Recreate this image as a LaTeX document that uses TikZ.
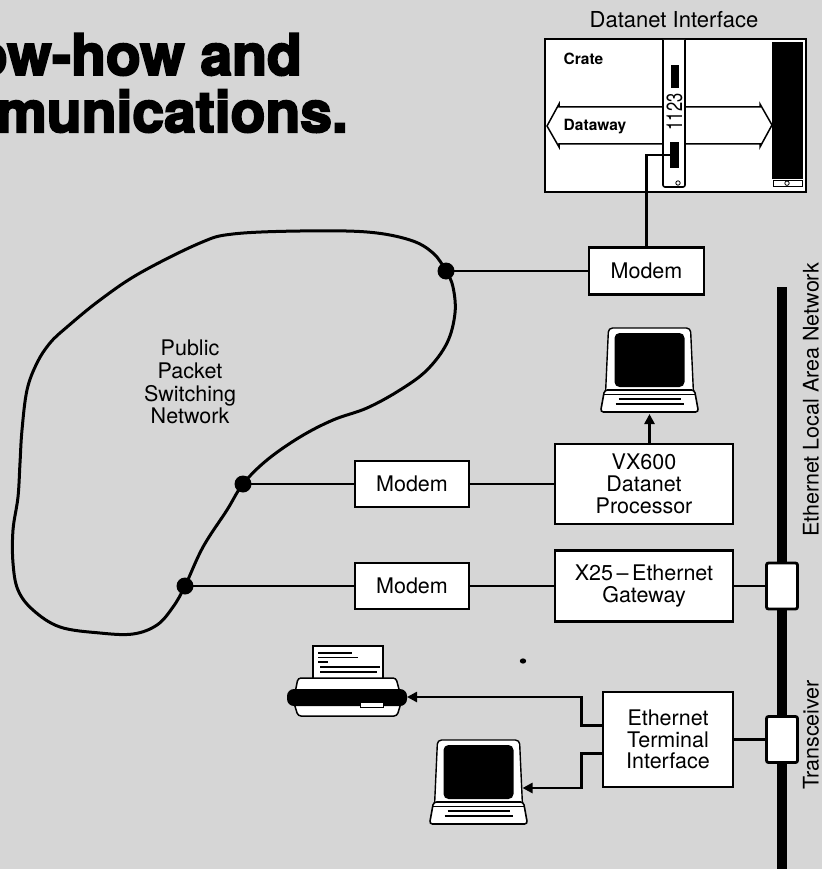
\documentclass[tikz,border=0pt]{standalone}
\usepackage{fontspec}
\setmainfont{TeX Gyre Heros}
\newfontfamily\headfont{TeX Gyre Heros}[FakeBold=3.5]
\usetikzlibrary{arrows.meta}
\definecolor{paper}{gray}{0.84}

\tikzset{
  terminal/.pic={
    % monitor casing, screen and keyboard wedge
    \draw[fill=white, line width=1.4pt, rounded corners=4pt] (-44,66) -- (-41,0) -- (41,0) -- (44,66) -- cycle;
    \fill[rounded corners=5pt] (-35,5) rectangle (35,59);
    \draw[fill=white, line width=1.6pt, rounded corners=3pt] (-45,62) -- (45,62) -- (49,84) -- (-49,84) -- cycle;
    \draw[line width=1pt] (-46,66) -- (46,66);
    \draw[line width=1.8pt] (-31,71) -- (31,71);
    \draw[line width=1.8pt] (-34,76) -- (34,76);
    \coordinate (-bot) at (0,86);
    \coordinate (-side) at (44,48);
  }
}

\begin{document}
\begin{tikzpicture}[x=1pt,y=-1pt,
  lbl/.style={font=\fontsize{21.5}{23}\selectfont, align=center, inner sep=0},
  box/.style={draw, fill=white, line width=2.6pt, inner sep=0,
              font=\fontsize{21.5}{21.8}\selectfont, align=center},
  trx/.style={draw, fill=white, line width=2.8pt, rounded corners=2pt,
              minimum width=31pt, minimum height=46pt, inner sep=0},
  junction/.style={circle, fill=black, minimum size=17pt, inner sep=0},
  wire/.style={line width=2.6pt},
  feed/.style={line width=2.6pt, -{Triangle[length=10pt,width=10pt]}},
  smallbold/.style={font=\fontsize{15.5}{16}\selectfont\bfseries, inner sep=0},
  headline/.style={anchor=base east, inner sep=0, font=\headfont\bfseries\fontsize{57}{57}\selectfont},
]
\useasboundingbox (0,0) rectangle (822,869);
\fill[paper] (0,0) rectangle (822,869);

% ---- headline ----
\begin{scope}
\clip (0,0) rectangle (822,869);
\node[headline] (head1) at (302,75) {know-how and};
\node[headline] (head2) at (348,132) {communications.};
\end{scope}

% ---- Datanet interface crate ----
\node[lbl, font=\fontsize{22}{23}\selectfont] (title) at (674,20) {Datanet Interface};
\node[draw, fill=white, line width=2.6pt, minimum width=261pt, minimum height=153pt, inner sep=0] (crate) at (675.5,115.5) {};
\draw[line width=1.5pt, fill=white] (547,126) -- (559,104) -- (559,107) -- (760,107) -- (760,104)
   -- (772,125) -- (760,147) -- (760,144) -- (559,144) -- (559,147) -- cycle;
\fill (772,42) rectangle (802.5,179);
\draw[line width=1pt, fill=white] (773,180) rectangle (802,186.5);
\draw[line width=0.8pt, fill=white] (787,183.2) circle (2.2pt);
\draw[line width=1.6pt, fill=white, rounded corners=2pt] (663,40) -- (663,187) -- (685,187) -- (685,40);
\draw[line width=0.8pt, fill=white] (678,183) circle (2.2pt);
\node[fill=black, minimum width=8pt, minimum height=23pt, inner sep=0] (slotA) at (674.5,76.5) {};
\node[fill=black, minimum width=8.5pt, minimum height=26pt, inner sep=0] (port) at (674.25,155) {};
\node[rotate=90, inner sep=0, font=\fontsize{22}{22}\selectfont] (cardlabel) at (674.5,112) {\scalebox{0.75}[1]{1123}};
\node[smallbold] (cratelabel) at (583.5,58.5) {Crate};
\node[smallbold] (waylabel) at (595,127) {Dataway};

% ---- packet switching network ----
\draw[line width=3pt] plot[smooth cycle, tension=0.6] coordinates {
 (446,271) (433,253) (410,240) (367,232) (300,231) (233,234) (200,243) (140,273)
 (100,300) (67,327) (50,343) (37,363) (27,390) (22,430) (20,463) (18,497) (13,530)
 (13,563) (18,590) (33,610) (60,627) (100,633) (133,634) (157,625) (173,607)
 (185,586) (203,547) (227,510) (243,484) (267,460) (300,437) (333,420) (367,408)
 (400,390) (427,370) (447,343) (455,313) (453,287)};
\node[lbl, font=\fontsize{21.5}{22.7}\selectfont] (psn) at (190,382) {Public\\Packet\\Switching\\Network};

% ---- boxes ----
\node[box, minimum width=115pt, minimum height=47pt] (modemA) at (646.5,271) {Modem};
\node[box, minimum width=114pt, minimum height=46pt] (modemB) at (412,484) {Modem};
\node[box, minimum width=114pt, minimum height=46pt] (modemC) at (412,586) {Modem};
\node[box, minimum width=178pt, minimum height=80pt] (vx) at (644,484) {VX600\\Datanet\\Processor};
\node[box, minimum width=178pt, minimum height=71pt] (x25) at (644,586) {X25\,–\,Ethernet\\Gateway};
\node[box, minimum width=130pt, minimum height=95pt] (eti) at (668,739.5) {Ethernet\\Terminal\\Interface};

% ---- Ethernet bus and transceivers ----
\node[fill=black, minimum width=10.5pt, minimum height=600pt, inner sep=0, anchor=north] (bus) at (782,287) {};
\node[trx] (trA) at (782,586) {};
\node[trx] (trB) at (782,739.5) {};
\node[lbl, rotate=90] (lan) at (811,400) {Ethernet Local Area Network};
\node[lbl, rotate=90] (trlabel) at (811,735) {Transceiver};

% ---- junctions on the network ----
\node[junction] (d1) at (446,271) {};
\node[junction] (d2) at (243,484) {};
\node[junction] (d3) at (185,586) {};

% ---- terminals and printer ----
\pic (t1) at (649.5,328) {terminal};
\pic (t2) at (478.5,740) {terminal};

\draw[line width=1.4pt, fill=white] (313,646) rectangle (383,681);
\draw[line width=1.8pt] (318,653) -- (352,653);
\draw[line width=1.3pt] (318,657.5) -- (358,657.5);
\draw[line width=1.3pt] (318,662) -- (328,662);
\draw[line width=1.3pt] (320,667) -- (380,667);
\draw[line width=1.3pt] (320,672) -- (377,672);
\draw[fill=white, line width=1.5pt, rounded corners=3pt] (295,693) -- (298,678) -- (396,678) -- (400,693) -- cycle;
\draw[fill=white, line width=1.5pt, rounded corners=3pt] (294,703) -- (401,703) -- (397,716) -- (298,716) -- cycle;
\fill[rounded corners=7pt] (287,689) rectangle (407,706);
\draw[line width=1pt, fill=white] (360,702) rectangle (383,707);
\coordinate (prn) at (407,697);
\fill (523,661) ellipse (3.2pt and 2.6pt);

% ---- connections ----
\draw[wire] (port.west) -| (modemA.north);
\draw[wire] (d1.center) -- (modemA.west);
\draw[wire] (d2.center) -- (modemB.west);
\draw[wire] (modemB.east) -- (vx.west);
\draw[wire] (d3.center) -- (modemC.west);
\draw[wire] (modemC.east) -- (x25.west);
\draw[wire] (x25.east) -- (trA.west);
\draw[wire] (eti.east) -- (trB.west);
\draw[feed] (vx.north -| t1-bot) -- (t1-bot);
\draw[feed] ([yshift=14pt]eti.west) -- ++(-20,0) |- (prn);
\draw[feed] ([yshift=-14pt]eti.west) -- ++(-20,0) |- (t2-side);
\end{tikzpicture}
\end{document}
